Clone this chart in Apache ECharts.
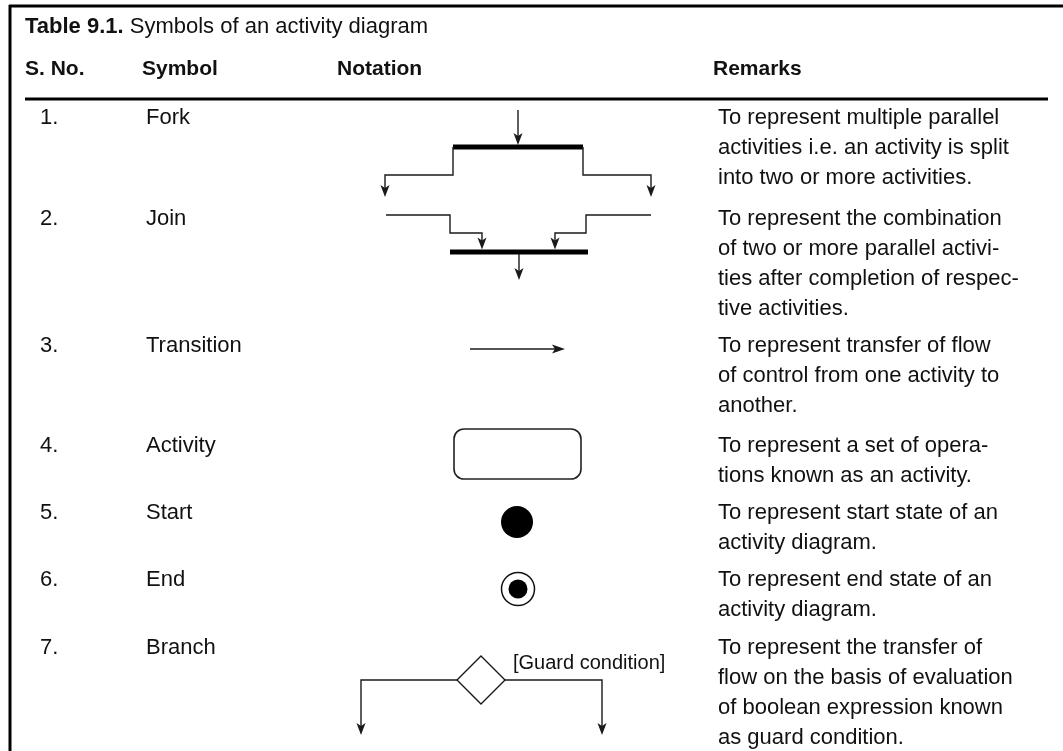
<!DOCTYPE html>
<html>
<head>
<meta charset="utf-8">
<script src="https://cdn.jsdelivr.net/npm/echarts@6/dist/echarts.min.js"></script>
<style>
html,body{margin:0;padding:0;background:#fff;}
#chart{width:1063px;height:751px;}
</style>
</head>
<body>
<div id="chart"></div>
<script>
// ---------- content ----------
const titleBold = 'Table 9.1.';
const titleText = 'Symbols of an activity diagram';
const headers = ['S. No.', 'Symbol', 'Notation', 'Remarks'];
const serialNos = ['1.', '2.', '3.', '4.', '5.', '6.', '7.'];
const symbols = ['Fork', 'Join', 'Transition', 'Activity', 'Start', 'End', 'Branch'];
const notations = ['fork', 'join', 'transition', 'activity', 'start', 'end', 'branch'];
const remarks = [
  ['To represent multiple parallel', 'activities i.e. an activity is split', 'into two or more activities.'],
  ['To represent the combination', 'of two or more parallel activi-', 'ties after completion of respec-', 'tive activities.'],
  ['To represent transfer of flow', 'of control from one activity to', 'another.'],
  ['To represent a set of opera-', 'tions known as an activity.'],
  ['To represent start state of an', 'activity diagram.'],
  ['To represent end state of an', 'activity diagram.'],
  ['To represent the transfer of', 'flow on the basis of evaluation', 'of boolean expression known', 'as guard condition.']
];
const guardLabel = '[Guard condition]';

// ---------- layout (axis units) ----------
const W = 1063, H = 751;
const headerX = [25, 142, 337, 713];
const cellX = [40, 146, 0, 718];
const titleY = 27, headerY = 69, ruleY = 99;
const rowY = [118, 219, 346, 446, 513, 580, 648];
const lineH = 30;
const notationAnchor = [[518, 147], [519, 252], [517, 349], [517, 454], [517, 522], [518, 589], [481, 680]];

const FONT = '"Liberation Sans", Arial, sans-serif';
const INK = '#111';
const LINE = '#1a1a1a';

function makeText(x, y, text, opt) {
  return {
    type: 'text',
    x: x, y: y,
    style: Object.assign({
      text: text, fill: INK, font: '22px ' + FONT,
      textAlign: 'left', textVerticalAlign: 'middle'
    }, opt || {})
  };
}

function shift(pts, c) { return pts.map(p => [c[0] + p[0], c[1] + p[1]]); }
function pline(pts, c, w) {
  return { type: 'polyline', shape: { points: shift(pts, c) }, style: { stroke: LINE, lineWidth: w || 1.4, fill: null } };
}
function head(tip, dir, c, len, hw) {
  len = len || 12; hw = hw || 4.5;
  let pts;
  if (dir === 'down') pts = [[tip[0], tip[1]], [tip[0] - hw, tip[1] - len], [tip[0], tip[1] - len + 3], [tip[0] + hw, tip[1] - len]];
  else pts = [[tip[0], tip[1]], [tip[0] - len, tip[1] - hw], [tip[0] - len + 3, tip[1]], [tip[0] - len, tip[1] + hw]];
  return { type: 'polygon', shape: { points: shift(pts, c) }, style: { fill: LINE } };
}
function bar(x, y, w, h, c) {
  return { type: 'rect', shape: { x: c[0] + x, y: c[1] + y, width: w, height: h }, style: { fill: '#000' } };
}

function drawNotation(kind, c) {
  const ch = [];
  if (kind === 'fork') {
    ch.push(pline([[0, -37], [0, -8]], c));
    ch.push(head([0, -2], 'down', c));
    ch.push(bar(-65, -2.5, 130, 5, c));
    ch.push(pline([[-65, 0], [-65, 28], [-133, 28], [-133, 44]], c));
    ch.push(head([-133, 50], 'down', c));
    ch.push(pline([[65, 0], [65, 28], [133, 28], [133, 44]], c));
    ch.push(head([133, 50], 'down', c));
  } else if (kind === 'join') {
    ch.push(pline([[-133, -37], [-69, -37], [-69, -19], [-37, -19], [-37, -8]], c));
    ch.push(head([-37, -2.5], 'down', c));
    ch.push(pline([[132, -37], [67, -37], [67, -19], [36, -19], [36, -8]], c));
    ch.push(head([36, -2.5], 'down', c));
    ch.push(bar(-69, -2.5, 138, 5, c));
    ch.push(pline([[0, 2], [0, 22]], c));
    ch.push(head([0, 28], 'down', c));
  } else if (kind === 'transition') {
    ch.push(pline([[-47, 0], [42, 0]], c));
    ch.push(head([48, 0], 'right', c, 13, 4.5));
  } else if (kind === 'activity') {
    ch.push({ type: 'rect', shape: { x: c[0] - 63, y: c[1] - 25, width: 127, height: 50, r: 10 }, style: { fill: '#fff', stroke: '#222', lineWidth: 1.6 } });
  } else if (kind === 'start') {
    ch.push({ type: 'circle', shape: { cx: c[0], cy: c[1], r: 16 }, style: { fill: '#000' } });
  } else if (kind === 'end') {
    ch.push({ type: 'circle', shape: { cx: c[0], cy: c[1], r: 16.5 }, style: { fill: '#fff', stroke: '#111', lineWidth: 1.5 } });
    ch.push({ type: 'circle', shape: { cx: c[0], cy: c[1], r: 9.5 }, style: { fill: '#000' } });
  } else if (kind === 'branch') {
    ch.push(pline([[-24, 0], [-120, 0], [-120, 49]], c));
    ch.push(head([-120, 55], 'down', c));
    ch.push(pline([[24, 0], [121, 0], [121, 49]], c));
    ch.push(head([121, 55], 'down', c));
    ch.push({ type: 'polygon', shape: { points: shift([[0, -24], [24, 0], [0, 24], [-24, 0]], c) }, style: { fill: '#fff', stroke: LINE, lineWidth: 1.4 } });
    ch.push(makeText(c[0] + 32, c[1] - 17, guardLabel, { font: '20px ' + FONT }));
  }
  return ch;
}

const chart = echarts.init(document.getElementById('chart'), null, { renderer: 'canvas' });
chart.setOption({
  animation: false,
  backgroundColor: '#fff',
  grid: { left: 0, right: 0, top: 0, bottom: 0 },
  xAxis: { type: 'value', min: 0, max: W, show: false },
  yAxis: { type: 'value', min: 0, max: H, inverse: true, show: false },
  series: [
    {
      // frame, title, header row
      type: 'custom', silent: true,
      data: [[0, 0]],
      renderItem: function (params, api) {
        const p = (x, y) => api.coord([x, y]);
        const ch = [];
        const t0 = p(9, 6), t1 = p(W, 6);
        ch.push({ type: 'line', shape: { x1: t0[0], y1: t0[1], x2: t1[0], y2: t1[1] }, style: { stroke: '#000', lineWidth: 3 } });
        const l0 = p(10, 5), l1 = p(10, H);
        ch.push({ type: 'line', shape: { x1: l0[0], y1: l0[1], x2: l1[0], y2: l1[1] }, style: { stroke: '#000', lineWidth: 3 } });
        const r0 = p(25, ruleY), r1 = p(1048, ruleY);
        ch.push({ type: 'line', shape: { x1: r0[0], y1: r0[1], x2: r1[0], y2: r1[1] }, style: { stroke: '#000', lineWidth: 3 } });
        const tp = p(25, titleY);
        ch.push({
          type: 'text', x: tp[0], y: tp[1],
          style: {
            text: '{b|' + titleBold + '} ' + titleText,
            font: '22px ' + FONT, fill: INK, textAlign: 'left', textVerticalAlign: 'middle',
            rich: { b: { fontWeight: 'bold', fontSize: 22, fontFamily: FONT, fill: INK } }
          }
        });
        headers.forEach((h, i) => {
          const hp = p(headerX[i], headerY);
          ch.push(makeText(hp[0], hp[1], h, { font: 'bold 21px ' + FONT }));
        });
        return { type: 'group', children: ch };
      }
    },
    {
      // body cells
      type: 'custom', silent: true,
      data: serialNos.map((s, i) => [i, rowY[i]]),
      renderItem: function (params, api) {
        const i = params.dataIndex;
        const y = api.value(1);
        const a = api.coord([cellX[0], y]);
        const b = api.coord([cellX[1], y]);
        const r = api.coord([cellX[3], y - lineH / 2]);
        return {
          type: 'group',
          children: [
            makeText(a[0], a[1], serialNos[i]),
            makeText(b[0], b[1], symbols[i]),
            {
              type: 'text', x: r[0], y: r[1],
              style: { text: remarks[i].join('\n'), font: '22px ' + FONT, fill: INK, lineHeight: lineH, textAlign: 'left', textVerticalAlign: 'top' }
            }
          ]
        };
      }
    },
    {
      // notation drawings
      type: 'custom', silent: true,
      data: notationAnchor.map(a => [a[0], a[1]]),
      renderItem: function (params, api) {
        const c = api.coord([api.value(0), api.value(1)]);
        return { type: 'group', children: drawNotation(notations[params.dataIndex], c) };
      }
    }
  ]
});
</script>
</body>
</html>
